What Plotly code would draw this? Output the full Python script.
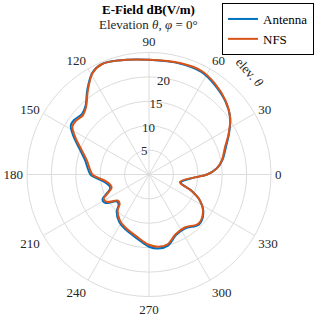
import plotly.graph_objects as go

theta_nfs = [0, 5, 11, 20, 27, 35, 44, 54, 63, 74, 90, 105, 113, 119, 126, 133, 138, 144, 148, 153,
             160, 167, 180, 183, 191, 199, 205, 208, 213, 220, 225, 229, 238, 246, 260, 270, 277,
             285, 294, 304, 315, 325, 333, 339, 346, 356, 360]
r_nfs = [11.9, 13.9, 15.2, 16.6, 18.3, 20.3, 21.8, 23.0, 23.8, 23.7, 23.5, 24.2, 24.6, 23.8, 21.3,
         18.9, 18.2, 18.6, 18.5, 17.0, 14.7, 13.1, 11.6, 10.7, 8.6, 8.1, 9.5, 10.5, 10.3, 8.3, 8.5,
         9.8, 11.2, 11.9, 13.1, 14.4, 14.9, 14.8, 13.4, 13.1, 14.3, 13.5, 11.7, 9.3, 6.5, 9.1, 11.9]

theta_ant = theta_nfs
r_ant = [11.9, 13.9, 15.3, 16.8, 18.4, 20.3, 21.7, 22.8, 23.6, 23.6, 23.5, 24.2, 24.6, 23.9, 21.5,
         19.1, 18.5, 19.0, 18.9, 17.4, 15.1, 13.5, 12.0, 11.1, 9.0, 8.4, 9.8, 10.8, 10.7, 8.6, 8.8,
         10.1, 11.5, 12.2, 13.4, 14.8, 15.3, 15.1, 13.6, 13.3, 14.5, 13.6, 11.7, 9.4, 6.7, 9.2, 11.9]

tick_angles = list(range(0, 360, 30))
tick_labels = [str(a) for a in tick_angles]
r_ticks = [5, 10, 15, 20]

FONT = "Liberation Serif"
GRID = "#DCDCDC"
TXT = "#262626"

fig = go.Figure()
fig.add_trace(go.Scatterpolar(r=r_ant, theta=theta_ant, mode="lines", name="Antenna",
                              line=dict(color="#0072BD", width=2, shape="spline", smoothing=1)))
fig.add_trace(go.Scatterpolar(r=r_nfs, theta=theta_nfs, mode="lines", name="NFS",
                              line=dict(color="#D95319", width=2, shape="spline", smoothing=1)))

fig.update_layout(
    width=320, height=316,
    margin=dict(l=0, r=0, t=0, b=0),
    paper_bgcolor="white",
    font=dict(family=FONT, size=13, color=TXT),
    polar=dict(
        domain=dict(x=[27/320, 271/320], y=[19.5/316, 263.5/316]),
        bgcolor="white",
        angularaxis=dict(direction="counterclockwise", rotation=0,
                         tickmode="array", tickvals=tick_angles, ticktext=tick_labels,
                         showline=True, linecolor=GRID, linewidth=1,
                         gridcolor=GRID, gridwidth=1,
                         ticks="outside", ticklen=1, tickcolor="rgba(0,0,0,0)",
                         tickfont=dict(family=FONT, size=13, color=TXT)),
        radialaxis=dict(range=[0, 25], angle=72, tickangle=72, tickmode="array", tickvals=r_ticks,
                        showline=False, gridcolor=GRID, gridwidth=1, ticks="",
                        side="counterclockwise",
                        tickfont=dict(family=FONT, size=13, color=TXT)),
    ),
    showlegend=True,
    legend=dict(x=1 - 6/320, y=1 - 3/316, xanchor="right", yanchor="top",
                bordercolor="black", borderwidth=1, bgcolor="white",
                font=dict(family=FONT, size=13, color="black"),
                itemwidth=30, tracegroupgap=0),
    annotations=[
        dict(text="<b>E-Field dB(V/m)</b>", x=148/320, y=1 - 9/316, xref="paper", yref="paper",
             xanchor="center", yanchor="middle", showarrow=False,
             font=dict(family=FONT, size=13, color="black")),
        dict(text="Elevation <i>θ</i>, <i>φ</i> = 0°", x=148/320, y=1 - 25/316, xref="paper", yref="paper",
             xanchor="center", yanchor="middle", showarrow=False,
             font=dict(family=FONT, size=13, color=TXT)),
        dict(text="elev. <i>θ</i>", x=250/320, y=1 - 72/316, xref="paper", yref="paper",
             xanchor="center", yanchor="middle", showarrow=False, textangle=48,
             font=dict(family=FONT, size=13, color=TXT)),
    ],
)

fig.write_html("out.html", config={"displayModeBar": False},
               post_script="document.body.style.margin='0';")
